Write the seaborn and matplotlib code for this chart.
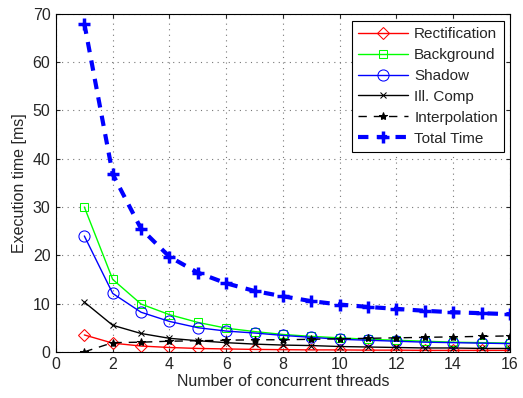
import matplotlib
matplotlib.use("Agg")
import matplotlib.pyplot as plt
import seaborn as sns
import pandas as pd

threads = list(range(1, 17))
rectification = [3.5, 1.8, 1.2, 0.9, 0.7, 0.6, 0.5, 0.45, 0.4, 0.4, 0.35, 0.35, 0.3, 0.3, 0.3, 0.3]
background = [30.0, 15.0, 9.9, 7.7, 6.1, 4.9, 4.2, 3.6, 3.2, 2.9, 2.6, 2.4, 2.2, 2.0, 1.9, 1.8]
shadow = [24.0, 12.1, 8.2, 6.3, 5.0, 4.3, 3.9, 3.4, 3.0, 2.6, 2.4, 2.2, 2.0, 1.9, 1.8, 1.7]
ill_comp = [10.3, 5.5, 3.8, 2.8, 2.3, 1.9, 1.6, 1.4, 1.3, 1.1, 1.0, 0.9, 0.8, 0.8, 0.7, 0.7]
interpolation = [0.0, 1.9, 2.0, 2.2, 2.3, 2.4, 2.5, 2.5, 2.6, 2.7, 2.8, 2.9, 3.0, 3.1, 3.2, 3.3]
total = [68.0, 36.8, 25.5, 19.7, 16.4, 14.2, 12.6, 11.5, 10.5, 9.8, 9.3, 8.9, 8.5, 8.2, 8.0, 7.8]

labels = ["Rectification", "Background", "Shadow", "Ill. Comp", "Interpolation", "Total Time"]
series = [rectification, background, shadow, ill_comp, interpolation, total]

sns.set_style("ticks")
plt.rcParams['font.family'] = ['Liberation Sans', 'DejaVu Sans']

fig = plt.figure(figsize=(5.23, 3.98), dpi=100)
ax = fig.add_axes([0.107, 0.116, 0.868, 0.849])

styles = [
    dict(color="#ff0000", marker="D", markersize=6, markerfacecolor="none", linestyle="-", linewidth=1.0),
    dict(color="#00ff00", marker="s", markersize=6, markerfacecolor="none", linestyle="-", linewidth=1.0),
    dict(color="#0000ff", marker="o", markersize=8, markerfacecolor="none", linestyle="-", linewidth=1.0),
    dict(color="black", marker="x", markersize=5, linestyle="-", linewidth=1.0),
    dict(color="black", marker="*", markersize=6, linestyle=(0, (6, 5)), linewidth=1.0),
    dict(color="#0000ff", marker="+", markersize=8, markeredgewidth=2.5, linestyle=(0, (2.5, 2.0)), linewidth=3.0),
]

for lab, vals, st in zip(labels, series, styles):
    df = pd.DataFrame({"threads": threads, "time": vals})
    sns.lineplot(data=df, x="threads", y="time", ax=ax, label=lab,
                 markeredgecolor=st["color"], **st)

ax.set_xlim(0, 16)
ax.set_ylim(0, 70)
ax.set_xticks(range(0, 17, 2))
ax.set_yticks(range(0, 71, 10))
ax.grid(True, linestyle=(0, (1, 4)), color="#777777", linewidth=0.8)
for s in ax.spines.values():
    s.set_visible(True)
    s.set_color("black")
    s.set_linewidth(0.8)
ax.tick_params(direction="in", length=3, pad=4, labelsize=11.5, top=True, right=True,
               labeltop=False, labelright=False)
ax.set_xlabel("Number of concurrent threads", fontsize=11.5, labelpad=1)
ax.set_ylabel("Execution time [ms]", fontsize=11.5, labelpad=4)

leg = ax.legend(loc="upper right", fontsize=11, frameon=True, fancybox=False,
                edgecolor="black", framealpha=1, borderpad=0.4, labelspacing=0.45,
                handlelength=3.3, handletextpad=0.4, borderaxespad=0.0,
                bbox_to_anchor=(0.987, 0.979))
leg.get_frame().set_linewidth(0.8)

fig.savefig("out.png", dpi=100)
